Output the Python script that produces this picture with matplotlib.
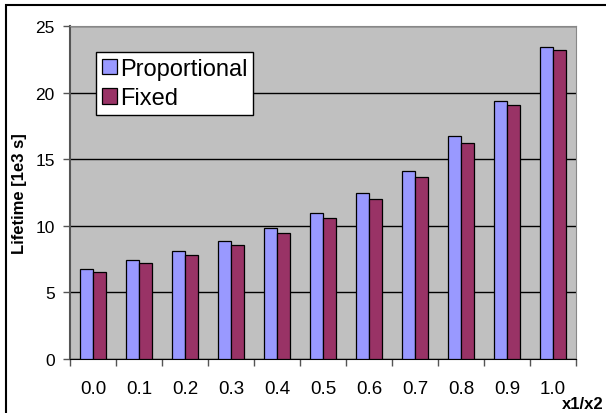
import numpy as np
import matplotlib.pyplot as plt
from matplotlib.patches import Rectangle

plt.rcParams['font.family'] = ['Liberation Sans', 'DejaVu Sans']

# x1/x2 ratio categories and lifetimes in units of 1e3 s
ratios = ["0.0", "0.1", "0.2", "0.3", "0.4", "0.5", "0.6", "0.7", "0.8", "0.9", "1.0"]
proportional = [6.76, 7.43, 8.08, 8.88, 9.86, 10.98, 12.44, 14.14, 16.77, 19.35, 23.4]
fixed = [6.56, 7.18, 7.83, 8.56, 9.43, 10.56, 11.99, 13.64, 16.19, 19.07, 23.2]

W, H = 606, 414
fig = plt.figure(figsize=(W / 100, H / 100), dpi=100)
ax = fig.add_axes([70 / W, (H - 360) / H, 506 / W, 333 / H])

# chart area border (top and left edges show, the rest runs off the image)
fig.patches.append(Rectangle((6 / W, -0.1), 1.2, (H - 6) / H + 0.1, transform=fig.transFigure,
                             fill=False, edgecolor="black", linewidth=1.5))

x = np.arange(len(ratios))
bw = 0.29
ax.set_facecolor("#C0C0C0")
ax.bar(x - bw / 2, proportional, bw, color="#9999FF", edgecolor="black", linewidth=0.9,
       label="Proportional", zorder=3)
ax.bar(x + bw / 2, fixed, bw, color="#993366", edgecolor="black", linewidth=0.9,
       label="Fixed", zorder=3)

ax.set_xlim(-0.5, len(ratios) - 0.5)
ax.set_ylim(0, 25)
ax.set_yticks([0, 5, 10, 15, 20, 25])
ax.yaxis.grid(True, color="black", linewidth=1.0, zorder=1)
ax.set_axisbelow(True)

ax.set_xticks(x)
ax.set_xticklabels(ratios, fontsize=13.5)
ax.set_xticks(np.arange(len(ratios) + 1) - 0.5, minor=True)
ax.tick_params(axis="x", which="major", length=0, pad=15)
ax.tick_params(axis="x", which="minor", length=5, width=1, color="#555555", direction="out")
ax.tick_params(axis="y", length=5, width=1, color="#555555", pad=6, labelsize=12.5)

for side in ("top", "right"):
    ax.spines[side].set_color("#888888")
ax.spines["left"].set_color("#555555")
ax.spines["bottom"].set_color("black")
ax.spines["left"].set_linewidth(1.5)

ax.set_ylabel("Lifetime [1e3 s]", fontsize=12, fontweight="bold", labelpad=6)
fig.text(604 / W, 1 - 405 / H, "x1/x2", fontsize=12, fontweight="bold", ha="right", va="center")

leg = ax.legend(loc="upper left", bbox_to_anchor=((96 - 70) / 506, (360 - 53) / 333),
                fontsize=17, frameon=True, fancybox=False, edgecolor="black",
                handlelength=0.62, handleheight=0.62, handletextpad=0.15,
                labelspacing=0.32, borderpad=0.25, borderaxespad=0)
leg.get_frame().set_linewidth(1.0)
leg.get_frame().set_facecolor("white")
leg.get_frame().set_alpha(1)

fig.savefig("out.png", dpi=100)
